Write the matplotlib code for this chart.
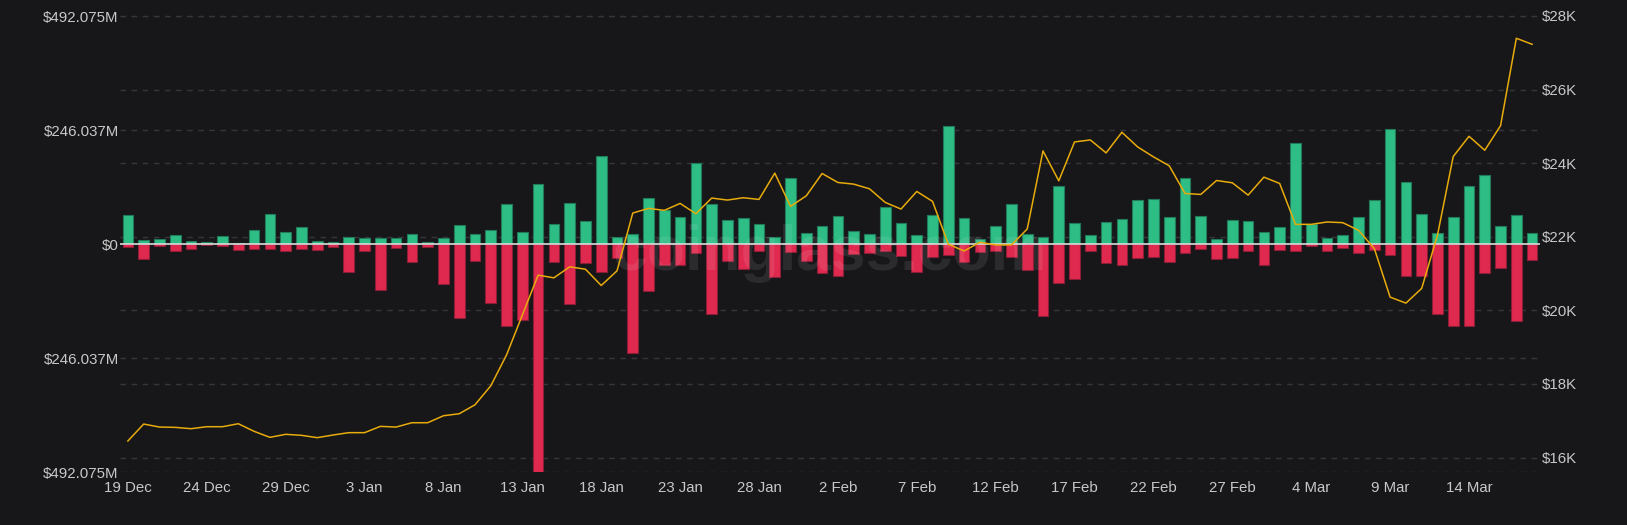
import matplotlib
matplotlib.use("Agg")
import matplotlib.pyplot as plt
import matplotlib.transforms as mtransforms
import numpy as np
import pandas as pd

# daily buckets, 19 Dec 2022 -> 18 Mar 2023
dates = pd.date_range("2022-12-19", "2023-03-18", freq="D")

# green bars (positive), $M
inflow = [
    61.9, 8.6, 10.8, 18.7, 5.8, 3.6, 16.5, 2.2, 29.5, 65.5,
    25.2, 36.0, 7.2, 3.6, 14.4, 12.2, 13.7, 12.9, 21.6, 4.3,
    12.2, 40.3, 21.6, 29.5, 86.3, 26.6, 130.2, 42.4, 87.8, 50.4,
    190.6, 15.1, 20.9, 98.6, 73.4, 58.3, 174.1, 87.0, 51.1, 56.1,
    43.2, 15.8, 143.2, 23.7, 38.1, 61.2, 28.8, 21.6, 79.1, 44.6,
    20.1, 61.9, 254.0, 55.4, 11.5, 39.6, 85.6, 22.3, 14.4, 124.5,
    44.6, 20.1, 48.2, 53.2, 94.2, 97.1, 58.3, 143.5, 60.3, 10.8,
    52.4, 50.9, 25.8, 38.0, 218.8, 43.8, 14.3, 20.1, 58.8, 95.4,
    248.9, 134.1, 65.3, 25.1, 58.8, 124.8, 149.9, 38.7, 63.1, 24.0,
]

# red bars (negative), $M
outflow = [
    5.8, 32.4, 4.3, 15.8, 10.1, 2.2, 4.3, 12.2, 10.1, 11.5,
    14.4, 11.5, 12.9, 7.2, 59.0, 15.8, 98.6, 7.9, 38.1, 6.5,
    86.3, 159.0, 37.4, 127.3, 175.5, 163.3, 492.075, 38.1, 128.8, 40.3,
    60.4, 28.8, 234.5, 100.0, 44.6, 43.9, 20.1, 150.4, 36.0, 53.2,
    14.4, 69.8, 17.3, 36.0, 61.9, 68.3, 22.3, 20.1, 14.4, 25.2,
    59.0, 27.3, 23.7, 38.1, 18.0, 15.8, 27.3, 56.1, 154.7, 83.5,
    74.8, 15.8, 41.7, 44.6, 29.5, 28.1, 38.1, 20.1, 10.8, 33.0,
    29.4, 15.1, 45.2, 13.6, 15.1, 5.0, 14.3, 9.3, 19.4, 13.6,
    23.7, 69.6, 68.9, 150.6, 175.7, 176.5, 63.1, 51.6, 165.0, 35.0,
]

# BTC price, right axis
price = [
    16451, 16911, 16830, 16821, 16785, 16839, 16839, 16920, 16713, 16550,
    16632, 16605, 16541, 16613, 16677, 16677, 16848, 16830, 16947, 16947,
    17137, 17191, 17435, 17950, 18790, 19873, 20957, 20885, 21183, 21119,
    20677, 21074, 22645, 22772, 22718, 22907, 22627, 23052, 22998, 23061,
    23016, 23729, 22826, 23115, 23720, 23476, 23431, 23305, 22934, 22754,
    23232, 22962, 21797, 21616, 21851, 21779, 21779, 22212, 24334, 23521,
    24578, 24632, 24280, 24840, 24442, 24172, 23930, 23178, 23151, 23530,
    23467, 23133, 23621, 23449, 22338, 22338, 22402, 22384, 22176, 21679,
    20361, 20198, 20596, 22040, 24181, 24731, 24352, 25020, 27395, 27231,
]

tick_labels = ["19 Dec", "24 Dec", "29 Dec", "3 Jan", "8 Jan", "13 Jan",
               "18 Jan", "23 Jan", "28 Jan", "2 Feb", "7 Feb", "12 Feb",
               "17 Feb", "22 Feb", "27 Feb", "4 Mar", "9 Mar", "14 Mar"]
left_ticks = [-492.075, -246.037, 0, 246.037, 492.075]
right_ticks = [16000, 18000, 20000, 22000, 24000, 26000, 28000]


def main():
    plt.rcParams['font.family'] = ['Liberation Sans', 'DejaVu Sans']
    bg = '#17171a'
    txt = '#c8c8c8'
    grid = '#36363a'

    fig = plt.figure(figsize=(16.27, 5.25), dpi=100, facecolor=bg)
    ax = fig.add_axes([120 / 1627, 1 - 472.3 / 525, 1420 / 1627, 456.3 / 525])
    ax.set_facecolor(bg)
    ax2 = ax.twinx()

    x = np.arange(len(dates))
    ax.bar(x, inflow, width=0.68, color='#2ebd85', edgecolor='#227a5a',
           linewidth=0.8, zorder=2)
    ax.bar(x, -np.array(outflow), width=0.68, color='#e0294f',
           edgecolor='#8c1d36', linewidth=0.8, zorder=2)
    ax.axhline(0, color='#dcdcdc', lw=1.2, zorder=3)

    ax.set_xlim(-0.5, 89.5)
    ax.set_ylim(-492.075, 492.075)
    ax2.set_ylim(15600, 28000)

    # dashed grid for both axes, kept behind the bars
    for v in left_ticks:
        if v != 0:
            ax.axhline(v, color=grid, lw=1, ls=(0, (4, 4)), zorder=0)
    tr = mtransforms.blended_transform_factory(ax.transAxes, ax2.transData)
    for v in right_ticks:
        ax.plot([0, 1], [v, v], transform=tr, color=grid, lw=1,
                ls=(0, (4, 4)), zorder=0, clip_on=False)

    ax2.plot(x, price, color='#e8ab0c', lw=1.1, zorder=4)

    ax.set_xticks(x[::5])
    ax.set_xticklabels(tick_labels)
    ax.set_yticks(left_ticks)
    ax.set_yticklabels(["$0" if v == 0 else f"${abs(v):.3f}M"
                        for v in left_ticks])
    ax2.set_yticks(right_ticks)
    ax2.set_yticklabels([f"${v // 1000}K" for v in right_ticks])

    ax.tick_params(axis='x', length=0, pad=6, colors=txt, labelsize=10.8)
    ax.tick_params(axis='y', length=0, pad=1, colors=txt, labelsize=10.8)
    ax2.tick_params(axis='y', length=0, pad=1, colors=txt, labelsize=10.8)
    for a in (ax, ax2):
        for s in a.spines.values():
            s.set_visible(False)

    ax.text(0.5, 0.48, "coinglass.com", transform=ax.transAxes,
            ha='center', va='center', fontsize=45, fontweight='bold',
            color='white', alpha=0.09, zorder=6)

    fig.savefig("out.png", dpi=100, facecolor=bg)


if __name__ == "__main__":
    main()
